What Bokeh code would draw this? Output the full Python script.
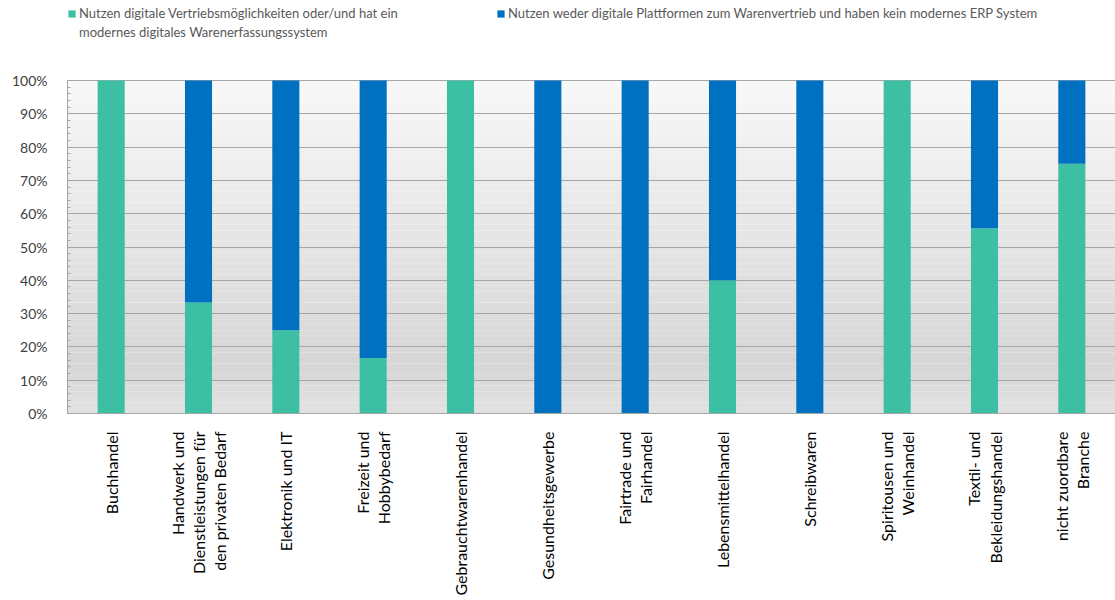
import math
from bokeh.plotting import figure
from bokeh.models import (FactorRange, FixedTicker, NumeralTickFormatter, Legend, LegendItem,
                          BoxAnnotation, Range1d, ColumnDataSource)
from bokeh.embed import file_html
from bokeh.resources import INLINE

categories = ["Buchhandel",
              "Handwerk und\nDienstleistungen für\nden privaten Bedarf",
              "Elektronik und IT",
              "Freizeit und\nHobbybedarf",
              "Gebrauchtwarenhandel",
              "Gesundheitsgewerbe",
              "Fairtrade und\nFairhandel",
              "Lebensmittelhandel",
              "Schreibwaren",
              "Spiritousen und\nWeinhandel",
              "Textil- und\nBekleidungshandel",
              "nicht zuordbare\nBranche"]
digital = [1.0, 0.333, 0.25, 0.167, 1.0, 0.0, 0.0, 0.40, 0.0, 1.0, 0.556, 0.75]
nicht_digital = [0.0, 0.667, 0.75, 0.833, 0.0, 1.0, 1.0, 0.60, 1.0, 0.0, 0.444, 0.25]
series_label_1 = "Nutzen digitale Vertriebsmöglichkeiten oder/und hat ein"
series_label_1b = "modernes digitales Warenerfassungssystem"
series_label_2 = "Nutzen weder digitale Plattformen zum Warenvertrieb und haben kein modernes ERP System"
colors = ["#3dbfa4", "#0070c0"]
y_ticks = [i / 10 for i in range(11)]

FONT = "Lato"

# frame extends to the top of the page so that the legend can sit inside it
PLOT_H = 333
TOP_SPACE = 80
p = figure(x_range=FactorRange(*categories), y_range=Range1d(0, 1 + TOP_SPACE / PLOT_H),
           frame_width=1048, frame_height=PLOT_H + TOP_SPACE, output_backend="svg",
           toolbar_location=None,
           min_border_left=67, min_border_right=0, min_border_top=0, min_border_bottom=10)

# background gradient
N = 60
for i in range(N):
    y0 = i / N
    y1 = (i + 1) / N
    ym = (y0 + y1) / 2
    if ym >= 0.15:
        c = 214 + (ym - 0.15) / 0.85 * 34
    else:
        c = 214 + (0.15 - ym) / 0.15 * 12
    c = int(round(c))
    p.add_layout(BoxAnnotation(bottom=y0, top=y1, fill_color=(c, c, c), fill_alpha=1.0,
                               line_alpha=0, level="image"))

source = ColumnDataSource(dict(cat=categories, digital=digital, nicht=nicht_digital))
rs = p.vbar_stack(["digital", "nicht"], x="cat", width=0.31, color=colors, source=source,
                  line_color=None)
# invisible renderer used only for the second (wrapped) line of the first legend entry
blank = p.vbar(x=[], top=[], width=0.3, fill_alpha=0, line_alpha=0)

legend = Legend(items=[LegendItem(label=series_label_1, renderers=[rs[0]]),
                       LegendItem(label=series_label_2, renderers=[rs[1]]),
                       LegendItem(label=series_label_1b, renderers=[blank])],
                orientation="horizontal", ncols=2, location=(0, 373),
                label_text_font=FONT, label_text_font_size="13px", label_text_color="#595959",
                glyph_width=9, glyph_height=9, label_standoff=3, spacing=3,
                label_width=414, label_height=16, padding=0, margin=0,
                border_line_alpha=0, background_fill_alpha=0)
p.add_layout(legend)

p.outline_line_color = None
p.xgrid.grid_line_color = None
p.ygrid.grid_line_color = "#a6a6a6"
p.ygrid.ticker = FixedTicker(ticks=y_ticks)

p.yaxis.ticker = FixedTicker(ticks=y_ticks, minor_ticks=[i / 50 for i in range(51)])
p.yaxis.bounds = (0, 1)
p.yaxis.formatter = NumeralTickFormatter(format="0%")
p.yaxis.major_label_text_font = FONT
p.yaxis.major_label_text_font_size = "14px"
p.yaxis.major_label_text_color = "#404040"
p.yaxis.axis_line_color = "#a6a6a6"
p.yaxis.major_tick_line_color = "#a6a6a6"
p.yaxis.minor_tick_line_color = "#a6a6a6"
p.yaxis.major_tick_in = 5
p.yaxis.major_tick_out = 0
p.yaxis.minor_tick_in = 3
p.yaxis.minor_tick_out = 0
p.yaxis.major_label_standoff = 20

p.xaxis.major_label_orientation = math.pi / 2
p.xaxis.major_label_text_font = FONT
p.xaxis.major_label_text_font_size = "16px"
p.xaxis.major_label_text_color = "#000000"
p.xaxis.major_label_text_line_height = 1.12
p.xaxis.axis_line_color = "#a6a6a6"
p.xaxis.major_tick_line_color = None
p.xaxis.minor_tick_line_color = None
p.xaxis.major_label_standoff = 12

open("out.html", "w").write(file_html(p, INLINE))
